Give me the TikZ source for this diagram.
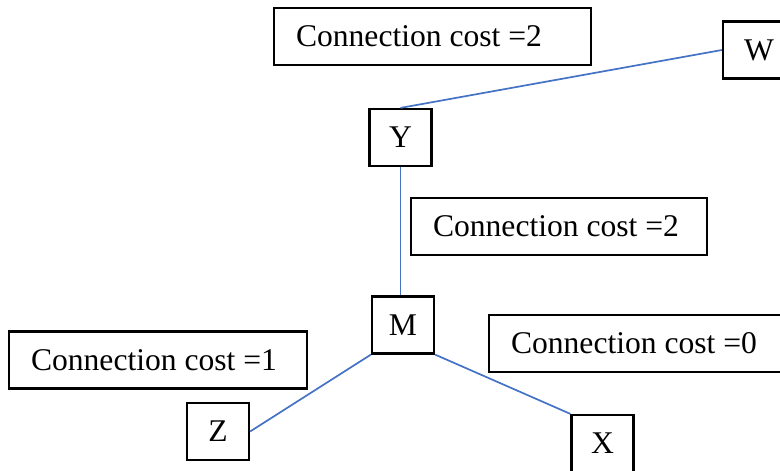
\documentclass[tikz,border=0pt]{standalone}
\usepackage{fontspec}
\setmainfont{Liberation Serif}
\definecolor{linkblue}{HTML}{4472C4}

\begin{document}
\begin{tikzpicture}[
    x=1pt, y=-1pt,
    every node/.style={font=\fontsize{31.6}{38}\selectfont},
    station/.style={rectangle, draw, line width=2.2pt, inner sep=0pt, minimum width=62pt, minimum height=57pt},
    costbox/.style={rectangle, draw, line width=2.2pt, inner xsep=22pt, inner ysep=0pt, minimum height=57pt},
    edge/.style={linkblue, line width=1.7pt}
]
\clip (0,0) rectangle (780,471);

\node[costbox] (costYW) at (432.5,36.5) {\makebox[273pt][l]{Connection cost =2}};
\node[costbox] (costYM) at (559,226.5) {\makebox[252pt][l]{Connection cost =2}};
\node[costbox] (costMZ) at (158,360) {\makebox[254pt][l]{Connection cost =1}};
\node[costbox] (costMX) at (638,343.5) {\makebox[254pt][l]{Connection cost =0}};

\node[station, minimum width=72pt] (W) at (759,50) {W};
\node[station] (Y) at (400.5,137.5) {Y};
\node[station] (M) at (403,325) {M};
\node[station] (Z) at (218,431.5) {Z};
\node[station] (X) at (602.5,443.5) {X};

\draw[edge] (Y.north) -- (W.west);
\draw[edge] (Y.south) -- (Y.south |- M.north);
\draw[edge] (M.south west) -- (Z.east);
\draw[edge] (M.south east) -- (X.north west);

\end{tikzpicture}
\end{document}
